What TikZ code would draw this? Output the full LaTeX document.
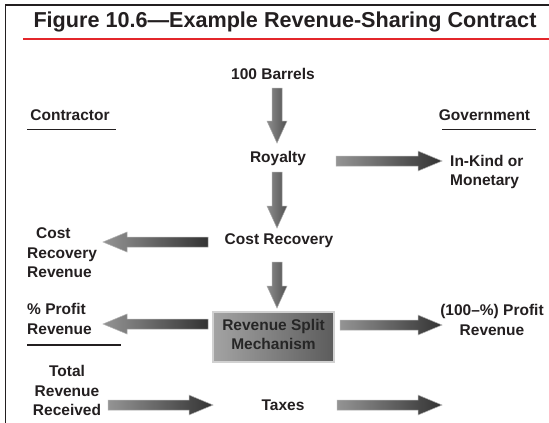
\documentclass[tikz,border=0pt]{standalone}
\usepackage{fontspec}
\setmainfont{Liberation Sans}
\usetikzlibrary{calc}
\definecolor{txt}{HTML}{231F20}
\definecolor{redline}{HTML}{E3262B}
\newcommand\BArR[2]{\path[barrow] ($(#1)+(0,-5)$) -- ($(#2)+(-24,-5)$) -- ($(#2)+(-24,-10)$) -- (#2) -- ($(#2)+(-24,10)$) -- ($(#2)+(-24,5)$) -- ($(#1)+(0,5)$) -- cycle;}
\newcommand\BArL[2]{\path[barrow] ($(#1)+(0,-5)$) -- ($(#2)+(24,-5)$) -- ($(#2)+(24,-10)$) -- (#2) -- ($(#2)+(24,10)$) -- ($(#2)+(24,5)$) -- ($(#1)+(0,5)$) -- cycle;}
\newcommand\BArD[2]{\path[darrow] ($(#1)+(-5,0)$) -- ($(#2)+(-5,-22)$) -- ($(#2)+(-10,-22)$) -- (#2) -- ($(#2)+(10,-22)$) -- ($(#2)+(5,-22)$) -- ($(#1)+(5,0)$) -- cycle;}
\begin{document}
\begin{tikzpicture}[x=1pt,y=-1pt,
  lbl/.style={text=txt,font=\fontsize{15.5}{19.5}\selectfont\bfseries,inner sep=0pt},
  ttl/.style={text=txt,font=\fontsize{21.6}{25}\selectfont\bfseries,inner sep=0pt},
  rule/.style={draw=txt,line width=1.5pt},
  barrow/.style={shade,left color=black!42,right color=black!80,draw=black!30,line width=0.5pt},
  darrow/.style={shade,left color=black!45,right color=black!68,draw=black!35,line width=0.5pt},
  splitbox/.style={shade,left color=black!36,right color=black!64,draw=black!18,line width=1.5pt,
    minimum width=121pt,minimum height=50pt,inner sep=0pt},
  boxtext/.style={text=black!85,align=center,inner sep=0pt,
    font=\fontsize{15.5}{19.5}\selectfont\bfseries}]
\useasboundingbox (0,0) rectangle (549,423);
\fill[white] (0,0) rectangle (549,423);
\draw[rule] (549,5) -- (5.5,5) -- (5.5,423);
\draw[draw=redline,line width=2pt] (23,38.5) -- (549,38.5);
\node[ttl] (title) at (285,21.5) {Figure 10.6—Example Revenue-Sharing Contract};
\node[lbl] (barrels) at (273,74) {100 Barrels};
\node[lbl] (contractor) at (70,115) {Contractor};
\node[lbl] (government) at (484.5,115.5) {Government};
\draw[rule] (27,129.5) coordinate (cu1) -- (116,129.5) coordinate (cu2);
\draw[rule] (442,129.5) coordinate (gu1) -- (536,129.5) coordinate (gu2);
\node[lbl] (royalty) at (278,158) {Royalty};
\node[lbl,anchor=west,align=left] (inkind) at (450,172) {In-Kind or\\Monetary};
\node[lbl] (costrec) at (279,240.5) {Cost Recovery};
\node[lbl,anchor=west,align=left] (costrev) at (27,253) {\hspace{9pt}Cost\\Recovery\\Revenue};
\node[splitbox] (split) at (273.5,337) {};
\node[boxtext] (splittext) at ($(split)+(0,-2.5)$) {Revenue Split\\Mechanism};
\node[lbl,anchor=west,align=left] (pprofit) at (27,319) {\% Profit\\Revenue};
\draw[rule] (27,345) coordinate (pu1) -- (121,345) coordinate (pu2);
\node[lbl,align=center] (gprofit) at (492,320) {(100–\%) Profit\\Revenue};
\node[lbl,align=center] (total) at (67,390.5) {Total\\Revenue\\Received};
\node[lbl] (taxes) at (283,405.5) {Taxes};
% arrow end coordinates
\coordinate (d1s) at (277,88);  \coordinate (d1e) at (277,143);
\coordinate (r1s) at (336,161); \coordinate (r1e) at (442,161);
\coordinate (d2s) at (277,172); \coordinate (d2e) at (277,228);
\coordinate (l1s) at (208,242); \coordinate (l1e) at (103,242);
\coordinate (d3s) at (277,262); \coordinate (d3e) at (277,308);
\coordinate (l2s) at (208,324); \coordinate (l2e) at (103,324);
\coordinate (r2s) at (340,325); \coordinate (r2e) at (442,325);
\coordinate (r3s) at (108,405); \coordinate (r3e) at (213,405);
\coordinate (r4s) at (337,405); \coordinate (r4e) at (442,405);
\BArD{d1s}{d1e}
\BArR{r1s}{r1e}
\BArD{d2s}{d2e}
\BArL{l1s}{l1e}
\BArD{d3s}{d3e}
\BArL{l2s}{l2e}
\BArR{r2s}{r2e}
\BArR{r3s}{r3e}
\BArR{r4s}{r4e}
\end{tikzpicture}
\end{document}
